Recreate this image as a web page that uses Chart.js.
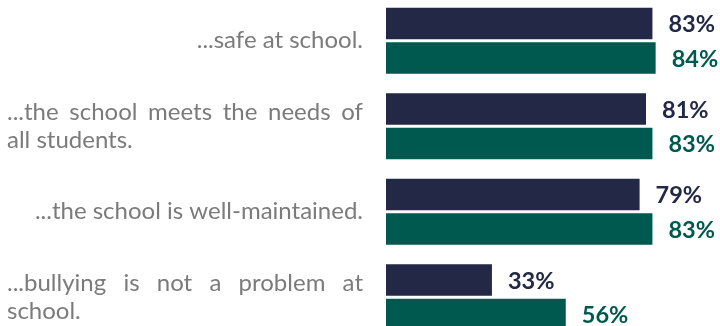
<!DOCTYPE html>
<html>
<head>
<meta charset="utf-8">
<script src="https://cdn.jsdelivr.net/npm/chart.js@4.4.1/dist/chart.umd.min.js"></script>
<style>
  html, body { margin: 0; padding: 0; background: #ffffff; overflow: hidden; }
  body { width: 720px; height: 326px; position: relative; }
  #wrap { position: absolute; left: 0; top: -2px; width: 720px; height: 342px; }
</style>
</head>
<body>
<div id="wrap"><canvas id="chart"></canvas></div>
<script>
// Survey statements (each entry is the list of wrapped lines)
const categories = [
  ["...safe at school."],
  ["...the school meets the needs of", "all students."],
  ["...the school is well-maintained."],
  ["...bullying is not a problem at", "school."]
];
// Share agreeing, in percent
const seriesA = [83, 81, 79, 33];
const seriesB = [84, 83, 83, 56];
const seriesNames = ["Group A", "Group B"];

const NAVY = "#222845";
const GREEN = "#00594f";
const LABEL_GREY = "#7b7b7b";
const LABEL_FONT = "24px Lato";
const VALUE_FONT = "bold 23.5px Lato";
const TEXT_LEFT = 7, TEXT_RIGHT = 363, LINE_H = 28.7;

// Left-hand statement text: single lines flush right, wrapped ones justified
const statementLabels = {
  id: "statementLabels",
  afterDraw(chart) {
    const ctx = chart.ctx;
    const y = chart.scales.y;
    ctx.save();
    ctx.font = LABEL_FONT;
    ctx.fillStyle = LABEL_GREY;
    ctx.textBaseline = "middle";
    categories.forEach((lines, i) => {
      const cy = y.getPixelForValue(i);
      const n = lines.length;
      lines.forEach((line, j) => {
        const ly = cy + (j - (n - 1) / 2) * LINE_H;
        if (n === 1) {
          ctx.textAlign = "right";
          ctx.fillText(line, TEXT_RIGHT, ly);
        } else if (j === n - 1) {
          ctx.textAlign = "left";
          ctx.fillText(line, TEXT_LEFT, ly);
        } else {
          const words = line.split(" ");
          ctx.textAlign = "left";
          const wordsW = words.reduce((s, w) => s + ctx.measureText(w).width, 0);
          const gap = (TEXT_RIGHT - TEXT_LEFT - wordsW) / (words.length - 1);
          let x = TEXT_LEFT;
          words.forEach(w => {
            ctx.fillText(w, x, ly);
            x += ctx.measureText(w).width + gap;
          });
        }
      });
    });
    ctx.restore();
  }
};

// Percent labels just past the end of each bar
const valueLabels = {
  id: "valueLabels",
  afterDatasetsDraw(chart) {
    const ctx = chart.ctx;
    ctx.save();
    ctx.font = VALUE_FONT;
    ctx.textAlign = "left";
    ctx.textBaseline = "middle";
    chart.data.datasets.forEach((ds, di) => {
      const meta = chart.getDatasetMeta(di);
      ctx.fillStyle = ds.backgroundColor;
      meta.data.forEach((bar, i) => {
        ctx.fillText(ds.data[i] + "%", bar.x + 16, bar.y + 1);
      });
    });
    ctx.restore();
  }
};

new Chart(document.getElementById("chart"), {
  type: "bar",
  data: {
    labels: categories,
    datasets: [
      { label: seriesNames[0], data: seriesA, backgroundColor: NAVY },
      { label: seriesNames[1], data: seriesB, backgroundColor: GREEN }
    ]
  },
  options: {
    indexAxis: "y",
    responsive: true,
    maintainAspectRatio: false,
    animation: false,
    categoryPercentage: 0.805,
    barPercentage: 0.92,
    layout: { padding: { left: 386, right: 13, top: 0, bottom: 0 } },
    plugins: {
      legend: { display: false },
      tooltip: { enabled: false }
    },
    scales: {
      x: { display: false, min: 0, max: 100 },
      y: { display: false }
    }
  },
  plugins: [statementLabels, valueLabels]
});
</script>
</body>
</html>
